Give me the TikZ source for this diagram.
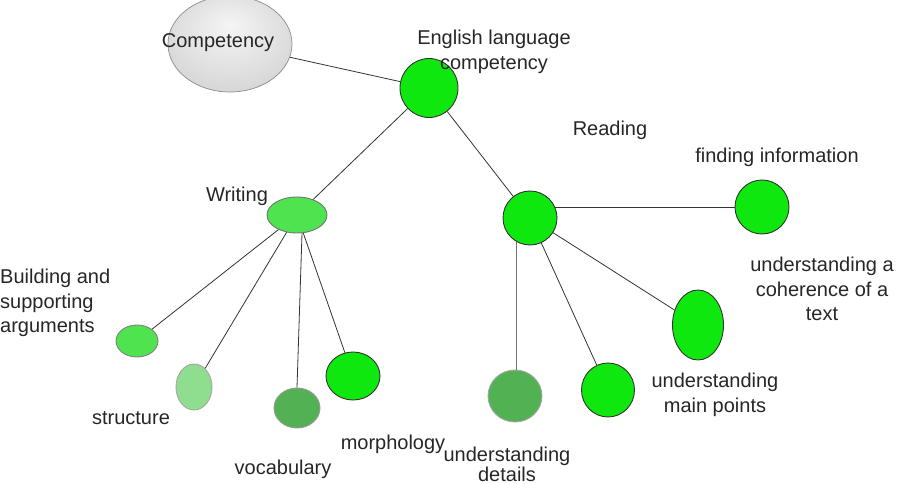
\documentclass[tikz,border=0pt]{standalone}
\usepackage{fontspec}
\setmainfont{Liberation Sans}
\usetikzlibrary{shapes.geometric}
\definecolor{brightg}{HTML}{0EE80E}
\definecolor{midg}{HTML}{4FE34F}
\definecolor{paleg}{HTML}{8FDD8F}
\definecolor{darkg}{HTML}{52B152}
\definecolor{lnc}{HTML}{333333}
\begin{document}
\begin{tikzpicture}[x=1pt,y=-1pt,
  lbl/.style={inner sep=0pt,align=center,font=\fontsize{20}{24.5}\selectfont,text=black!85},
  bub/.style={draw=black!80,line width=0.9pt,ellipse shape},
  ellipse shape/.style={shape=ellipse,inner sep=0pt},
  conn/.style={draw=lnc,line width=0.8pt}]
\useasboundingbox (0,0) rectangle (908,484);
\pgfdeclareradialshading{greyball}{\pgfpoint{0bp}{10bp}}{color(0bp)=(white!96!black); color(20bp)=(white!88!black); color(50bp)=(white!75!black)}
% nodes
\node[draw=black!45,line width=0.7pt,shape=ellipse,minimum width=124pt,minimum height=96pt,shading=greyball] (comp) at (230,44) {};
\node[bub,fill=brightg,minimum width=58pt,minimum height=59pt] (eng) at (429,88) {};
\node[bub,fill=midg,draw=black!55,minimum width=60pt,minimum height=36pt] (wri) at (297,215) {};
\node[bub,fill=brightg,minimum width=54pt,minimum height=54pt] (rea) at (530,218) {};
\node[bub,fill=midg,draw=black!50,minimum width=42pt,minimum height=32pt] (bui) at (137,341) {};
\node[bub,fill=paleg,draw=black!35,minimum width=36pt,minimum height=46pt] (str) at (194,387) {};
\node[bub,fill=darkg,draw=black!40,minimum width=46pt,minimum height=40pt] (voc) at (297,408) {};
\node[bub,fill=brightg,minimum width=54pt,minimum height=48pt] (mor) at (353,376) {};
\node[bub,fill=brightg,minimum width=54pt,minimum height=54pt] (fin) at (762,207) {};
\node[bub,fill=brightg,minimum width=51pt,minimum height=70pt] (coh) at (698,325) {};
\node[bub,fill=brightg,minimum width=53pt,minimum height=54pt] (mai) at (608,390) {};
\node[bub,fill=darkg,draw=black!35,minimum width=54pt,minimum height=52pt] (det) at (515,396) {};
% connectors
\draw[conn] (comp) -- (eng);
\draw[conn] (eng) -- (wri);
\draw[conn] (eng) -- (rea);
\draw[conn] (wri) -- (bui);
\draw[conn] (wri) -- (str);
\draw[conn] (wri.south) ++(5,0) coordinate (w1) (w1) -- (voc.north);
\draw[conn] (wri) -- (mor);
\coordinate (r2) at ([xshift=-2pt]fin.west -| rea.east);
\draw[conn] (r2) -- (fin.west);
\draw[conn] (rea) -- (coh);
\draw[conn] (rea) -- (mai);
\draw[conn,draw=black!55] (rea.240) -- (rea.240 |- det.north);
% labels
\node[lbl] (tcomp) at (218,43) {Competency};
\node[lbl] (teng) at (494,52) {English language\\competency};
\node[lbl] (trea) at (610,130) {Reading};
\node[lbl] (twri) at (237,196) {Writing};
\node[lbl,anchor=west,align=left] (tbui) at (0,303) {Building and\\supporting\\arguments};
\node[lbl] (tstr) at (131,418) {structure};
\node[lbl] (tvoc) at (283,469) {vocabulary};
\node[lbl] (tmor) at (393,444) {morphology};
\node[lbl] (tfin) at (777,157) {finding information};
\node[lbl] (tcoh) at (822,289) {understanding a\\coherence of a\\text};
\node[lbl] (tmai) at (715,395) {understanding\\main points};
\node[lbl,font=\fontsize{20}{20}\selectfont] (tdet) at (507,464) {understanding\\details};
\end{tikzpicture}
\end{document}
